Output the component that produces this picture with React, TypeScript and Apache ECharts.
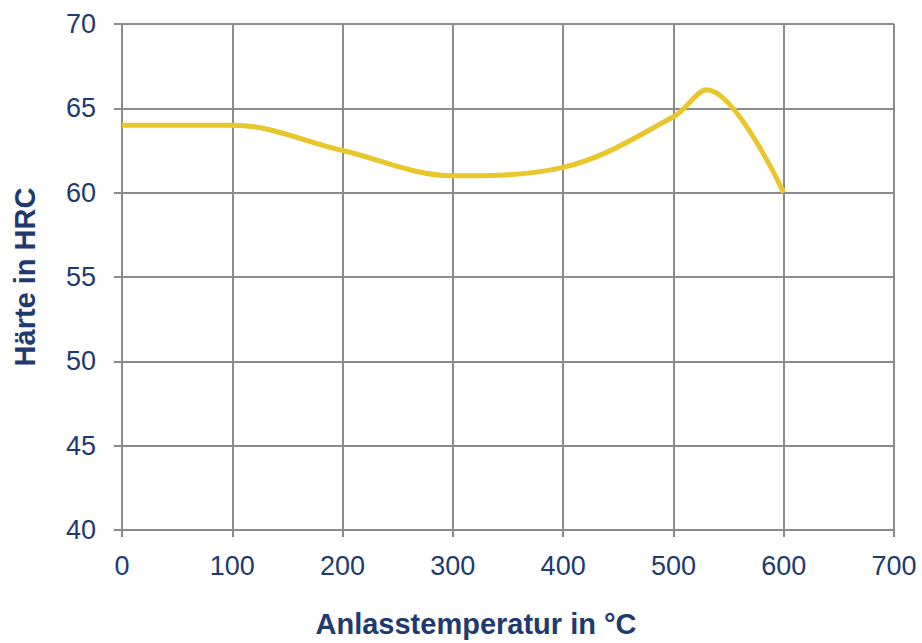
import React, { useEffect, useRef } from "react";
import * as echarts from "echarts";

const temps = [0, 100, 200, 300, 400, 500, 530, 600];
const hardness = [64, 64, 62.5, 61, 61.5, 64.5, 66.1, 60];
const xTitle = "Anlasstemperatur in °C";
const yTitle = "Härte in HRC";

const navy = "#1F3A6E";
const gridGray = "#8C8C8C";

export default function App() {
  const ref = useRef<HTMLDivElement>(null);
  useEffect(() => {
    if (!ref.current) return;
    const chart = echarts.init(ref.current, null, { renderer: "svg" });
    chart.setOption({
      animation: false,
      grid: { left: 122, right: 28, top: 24, bottom: 112, containLabel: false },
      xAxis: {
        type: "value",
        min: 0,
        max: 700,
        interval: 100,
        name: xTitle,
        nameLocation: "middle",
        nameGap: 79,
        nameTextStyle: {
          color: navy,
          fontSize: 29,
          fontWeight: "bold",
          fontFamily: "Liberation Sans",
          padding: [0, 64, 0, 0],
        },
        axisLine: { show: true, lineStyle: { color: gridGray, width: 2 } },
        axisTick: { show: true, length: 7, lineStyle: { color: gridGray, width: 2 } },
        axisLabel: { color: navy, fontSize: 27, margin: 22, fontFamily: "Liberation Sans" },
        splitLine: { show: true, lineStyle: { color: gridGray, width: 2 } },
      },
      yAxis: {
        type: "value",
        min: 40,
        max: 70,
        interval: 5,
        name: yTitle,
        nameLocation: "middle",
        nameGap: 83,
        nameRotate: 90,
        nameTextStyle: { color: navy, fontSize: 29, fontWeight: "bold", fontFamily: "Liberation Sans" },
        axisLine: { show: true, lineStyle: { color: gridGray, width: 2 } },
        axisTick: { show: true, length: 8, lineStyle: { color: gridGray, width: 2 } },
        axisLabel: { color: navy, fontSize: 27, margin: 26, fontFamily: "Liberation Sans" },
        splitLine: { show: true, lineStyle: { color: gridGray, width: 2 } },
      },
      series: [
        {
          type: "line",
          data: temps.map((t, i) => [t, hardness[i]]),
          smooth: 0.35,
          symbol: "none",
          lineStyle: { color: "#E8C62C", width: 5 },
        },
      ],
    });
    return () => chart.dispose();
  }, []);
  return <div ref={ref} style={{ width: 922, height: 643, position: "absolute", left: 0, top: 0 }} />;
}
